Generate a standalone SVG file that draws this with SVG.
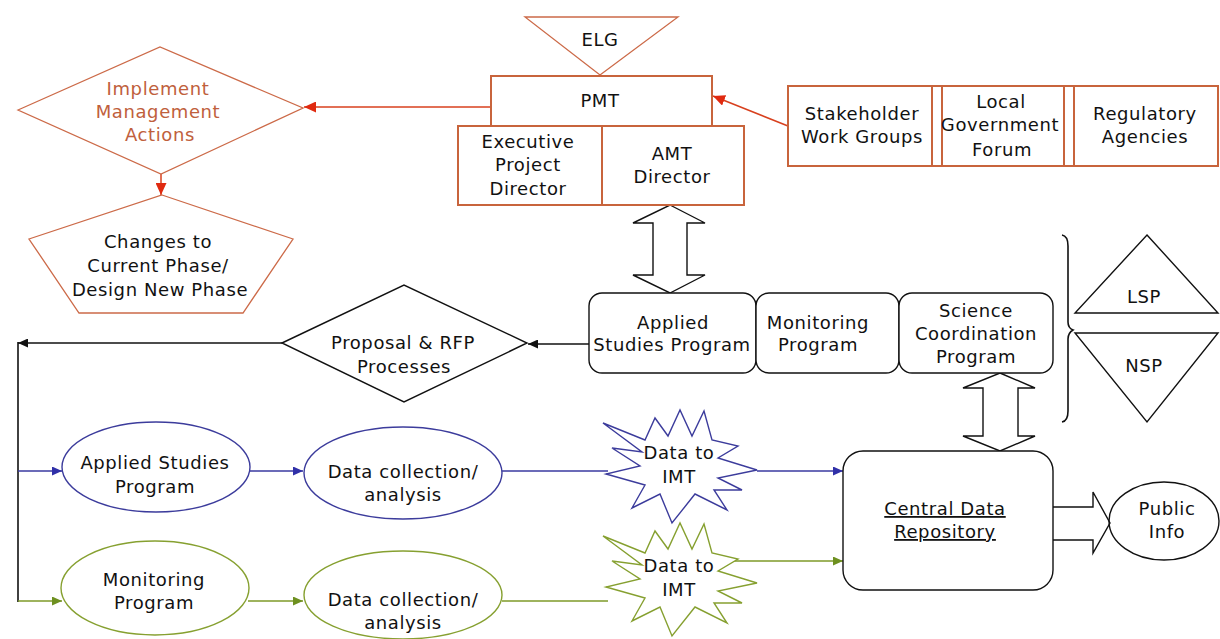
<svg xmlns="http://www.w3.org/2000/svg" width="1220" height="639" viewBox="0 0 1220 639">
  <style>
    text { font-family: "DejaVu Sans", "Liberation Sans", sans-serif; font-size: 18px; letter-spacing: 0.6px; fill: #111; text-anchor: middle; }
    .org { fill: #fff; stroke: #c8643c; stroke-width: 2; }
    .orgthin { fill: #fff; stroke: #cc6a48; stroke-width: 1.3; }
    .orgtxt { fill: #c0603c; }
    .blk { fill: #fff; stroke: #111; stroke-width: 1.4; }
    .blu { fill: #fff; stroke: #3c3c9c; stroke-width: 1.4; }
    .grn { fill: #fff; stroke: #86a030; stroke-width: 1.4; }
    .c-red { fill: none; stroke: #d8401e; stroke-width: 1.5; }
    .c-blk { fill: none; stroke: #111; stroke-width: 1.6; }
    .c-blu { fill: none; stroke: #3a3aa0; stroke-width: 1.6; }
    .c-grn { fill: none; stroke: #7e9a28; stroke-width: 1.6; }
    .ul { text-decoration: underline; }
  </style>
  <defs>
    <marker id="ah-red" markerUnits="userSpaceOnUse" markerWidth="13" markerHeight="11" refX="12" refY="5.5" orient="auto">
      <path d="M0,0 L12,5.5 L0,11 z" fill="#e02a10"/>
    </marker>
    <marker id="ah-blk" markerUnits="userSpaceOnUse" markerWidth="11" markerHeight="9" refX="10" refY="4.5" orient="auto">
      <path d="M0,0 L10,4.5 L0,9 z" fill="#111"/>
    </marker>
    <marker id="ah-blu" markerUnits="userSpaceOnUse" markerWidth="11" markerHeight="9" refX="10" refY="4.5" orient="auto">
      <path d="M0,0 L10,4.5 L0,9 z" fill="#3030a8"/>
    </marker>
    <marker id="ah-grn" markerUnits="userSpaceOnUse" markerWidth="11" markerHeight="9" refX="10" refY="4.5" orient="auto">
      <path d="M0,0 L10,4.5 L0,9 z" fill="#6e9020"/>
    </marker>
    <!-- irregular burst outline for the "Data to IMT" nodes -->
    <polygon id="burst" points="603,423 645,440 655,418 668,436 680,410 692,436 704,411 712,440 738,446 718,458 757,470 718,478 742,490 714,490 727,510 695,494 672,523 660,494 632,508 645,485 606,474 640,466 612,448 642,452"/>
  </defs>

  <rect width="1220" height="639" fill="#fff"/>

  <!-- connectors -->
  <g id="connectors">
    <line class="c-red" x1="491" y1="107" x2="304" y2="107" marker-end="url(#ah-red)"/>
    <line class="c-red" x1="161" y1="174" x2="161" y2="195" marker-end="url(#ah-red)"/>
    <line class="c-red" x1="788" y1="126" x2="713" y2="96" marker-end="url(#ah-red)"/>
    <line class="c-blk" x1="589" y1="344" x2="528" y2="344" marker-end="url(#ah-blk)"/>
    <line class="c-blk" x1="282" y1="343" x2="18" y2="343" marker-end="url(#ah-blk)"/>
    <line class="c-blk" x1="18" y1="342" x2="18" y2="602"/>
    <line class="c-blu" x1="18" y1="471" x2="62" y2="471" marker-end="url(#ah-blu)"/>
    <line class="c-blu" x1="250" y1="471" x2="303" y2="471" marker-end="url(#ah-blu)"/>
    <line class="c-blu" x1="502" y1="471" x2="608" y2="471"/>
    <line class="c-blu" x1="757" y1="471" x2="843" y2="471" marker-end="url(#ah-blu)"/>
    <line class="c-grn" x1="18" y1="601" x2="62" y2="601" marker-end="url(#ah-grn)"/>
    <line class="c-grn" x1="248" y1="601" x2="303" y2="601" marker-end="url(#ah-grn)"/>
    <line class="c-grn" x1="502" y1="601" x2="608" y2="601"/>
    <line class="c-grn" x1="722" y1="561" x2="843" y2="561" marker-end="url(#ah-grn)"/>
    <!-- hollow block arrows -->
    <polygon class="blk" points="670,205 705,223 687,223 687,275 705,275 670,293 633,275 653,275 653,223 633,223"/>
    <polygon class="blk" points="1000,373 1035,388 1018,388 1018,436 1035,436 1000,451 963,436 983,436 983,388 963,388"/>
    <polyline class="blk" points="1053,507 1093,507 1093,492 1110,523 1093,553 1093,540 1053,540"/>
    <!-- brace grouping LSP / NSP -->
    <path class="c-blk" stroke-width="1.4" d="M1062,235 Q1068,236 1068,246 L1068,322 Q1068,328 1073,330 Q1068,333 1068,339 L1068,411 Q1068,421 1062,422"/>
  </g>

  <!-- management nodes -->
  <g id="elg">
    <polygon class="orgthin" points="525,17 678,17 600,75"/>
    <text x="600" y="46">ELG</text>
  </g>
  <g id="pmt">
    <rect class="org" x="491" y="76" width="221" height="50"/>
    <text x="600" y="107">PMT</text>
  </g>
  <g id="exec-director">
    <rect class="org" x="458" y="126" width="144" height="79"/>
    <text x="528" y="148">Executive</text>
    <text x="528" y="171">Project</text>
    <text x="528" y="195">Director</text>
  </g>
  <g id="amt-director">
    <rect class="org" x="602" y="126" width="142" height="79"/>
    <text x="672" y="160">AMT</text>
    <text x="672" y="183">Director</text>
  </g>
  <g id="implement">
    <polygon class="orgthin" points="18,110 160,47 303,108 161,174"/>
    <text class="orgtxt" x="158" y="95">Implement</text>
    <text class="orgtxt" x="158" y="118">Management</text>
    <text class="orgtxt" x="160" y="141">Actions</text>
  </g>
  <g id="changes">
    <polygon class="orgthin" points="162,195 293,239 243,313 79,313 29,239"/>
    <text x="158" y="248">Changes to</text>
    <text x="158" y="272">Current Phase/</text>
    <text x="160" y="296">Design New Phase</text>
  </g>
  <g id="stakeholders">
    <rect class="org" x="788" y="86" width="430" height="80"/>
    <line class="org" x1="932" y1="86" x2="932" y2="166"/>
    <line class="org" x1="942" y1="86" x2="942" y2="166"/>
    <line class="org" x1="1064" y1="86" x2="1064" y2="166"/>
    <line class="org" x1="1074" y1="86" x2="1074" y2="166"/>
    <text x="862" y="120">Stakeholder</text>
    <text x="862" y="143">Work Groups</text>
    <text x="1001" y="108">Local</text>
    <text x="1000" y="131">Government</text>
    <text x="1002" y="156">Forum</text>
    <text x="1145" y="120">Regulatory</text>
    <text x="1145" y="143">Agencies</text>
  </g>

  <!-- program nodes -->
  <g id="applied-studies-box">
    <rect class="blk" x="589" y="293" width="167" height="80" rx="13"/>
    <text x="673" y="329">Applied</text>
    <text x="672" y="351">Studies Program</text>
  </g>
  <g id="monitoring-box">
    <rect class="blk" x="756" y="293" width="143" height="80" rx="13"/>
    <text x="818" y="329">Monitoring</text>
    <text x="818" y="351">Program</text>
  </g>
  <g id="science-box">
    <rect class="blk" x="899" y="293" width="154" height="80" rx="13"/>
    <text x="976" y="317">Science</text>
    <text x="976" y="340">Coordination</text>
    <text x="976" y="363">Program</text>
  </g>
  <g id="lsp">
    <polygon class="blk" points="1147,235 1218,313 1075,313"/>
    <text x="1144" y="303">LSP</text>
  </g>
  <g id="nsp">
    <polygon class="blk" points="1075,333 1218,333 1147,422"/>
    <text x="1144" y="372">NSP</text>
  </g>
  <g id="proposal">
    <polygon class="blk" points="282,343 404,285 527,343 404,402"/>
    <text x="403" y="349">Proposal &amp; RFP</text>
    <text x="404" y="373">Processes</text>
  </g>

  <!-- applied studies stream -->
  <g id="applied-studies">
    <ellipse class="blu" cx="156" cy="467" rx="94" ry="45"/>
    <text x="155" y="469">Applied Studies</text>
    <text x="155" y="493">Program</text>
  </g>
  <g id="applied-data">
    <ellipse class="blu" cx="403" cy="473" rx="99" ry="46"/>
    <text x="403" y="478">Data collection/</text>
    <text x="403" y="501">analysis</text>
  </g>
  <g id="applied-imt">
    <use href="#burst" class="blu"/>
    <text x="679" y="459">Data to</text>
    <text x="679" y="483">IMT</text>
  </g>

  <!-- monitoring stream -->
  <g id="monitoring">
    <ellipse class="grn" cx="155" cy="588" rx="94" ry="47"/>
    <text x="154" y="586">Monitoring</text>
    <text x="154" y="609">Program</text>
  </g>
  <g id="monitoring-data">
    <ellipse class="grn" cx="403" cy="595" rx="99" ry="44"/>
    <text x="403" y="606">Data collection/</text>
    <text x="403" y="629">analysis</text>
  </g>
  <g id="monitoring-imt">
    <use href="#burst" class="grn" transform="translate(0,113)"/>
    <text x="679" y="572">Data to</text>
    <text x="679" y="596">IMT</text>
  </g>

  <!-- repository and outputs -->
  <g id="central-data">
    <rect class="blk" x="843" y="451" width="210" height="139" rx="20"/>
    <text class="ul" x="945" y="515">Central Data</text>
    <text class="ul" x="945" y="538">Repository</text>
  </g>
  <g id="public-info">
    <ellipse cx="1164" cy="521" rx="55" ry="39" fill="none" stroke="#111" stroke-width="1.4"/>
    <text x="1167" y="515">Public</text>
    <text x="1167" y="538">Info</text>
  </g>
</svg>
